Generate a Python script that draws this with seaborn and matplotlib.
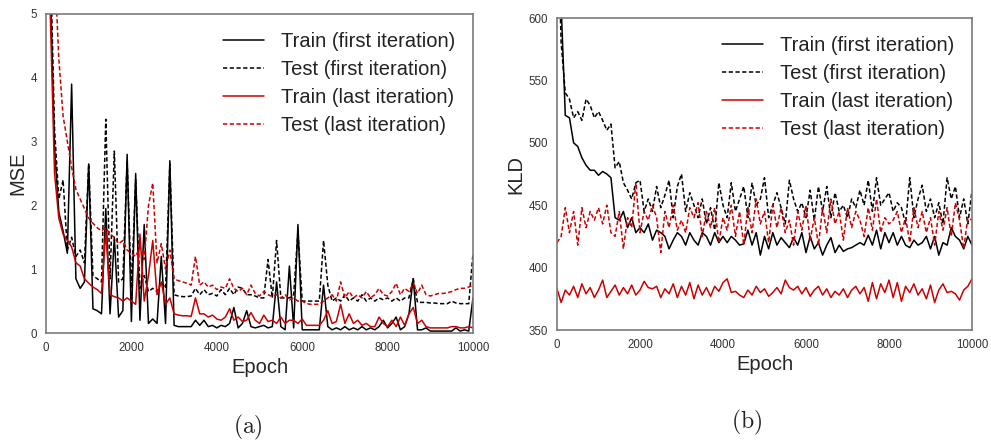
import numpy as np
import pandas as pd
import matplotlib
matplotlib.use("Agg")
import matplotlib.pyplot as plt
import seaborn as sns

# ---------------- data ----------------
epochs = list(range(0, 10001, 100))

mse_train_first = [
    9.0, 5.5, 2.9, 1.9, 1.6, 1.25, 3.9, 0.85, 0.7, 0.8,
    2.65, 0.38, 0.35, 0.3, 1.95, 0.3, 1.5, 0.25, 0.35, 2.8,
    0.18, 2.5, 0.2, 1.7, 0.15, 0.22, 0.15, 1.2, 0.15, 2.7,
    0.12, 0.1, 0.1, 0.1, 0.1, 0.2, 0.12, 0.2, 0.1, 0.12,
    0.08, 0.12, 0.1, 0.15, 0.4, 0.08, 0.15, 0.35, 0.1, 0.08,
    0.1, 0.12, 0.08, 0.1, 0.8, 0.1, 0.05, 1.05, 0.08, 1.7,
    0.05, 0.05, 0.05, 0.05, 0.05, 0.75, 0.1, 0.05, 0.08, 0.05,
    0.1, 0.05, 0.08, 0.05, 0.1, 0.05, 0.08, 0.05, 0.1, 0.2,
    0.08, 0.15, 0.25, 0.05, 0.1, 0.3, 0.85, 0.05, 0.05, 0.08,
    0.03, 0.03, 0.03, 0.03, 0.03, 0.03, 0.08, 0.03, 0.05, 0.03,
    0.55]

mse_test_first = [
    9.0, 6.0, 3.2, 2.1, 2.4, 1.3, 1.5, 1.2, 1.3, 1.1,
    2.65, 0.9, 0.85, 0.8, 3.35, 0.85, 2.85, 0.8, 0.85, 2.7,
    0.7, 2.4, 0.7, 0.9, 0.65, 0.7, 0.65, 0.8, 0.7, 2.65,
    0.6, 0.58, 0.57, 0.57, 0.58, 0.7, 0.6, 0.68, 0.6, 0.62,
    0.58, 0.68, 0.6, 0.7, 0.6, 0.72, 0.7, 0.6, 0.6, 0.58,
    0.55, 0.55, 1.15, 0.55, 1.45, 0.55, 0.55, 0.55, 0.6, 1.6,
    0.5, 0.5, 0.5, 0.5, 0.5, 1.45, 0.75, 0.5, 0.55, 0.5,
    0.6, 0.5, 0.55, 0.5, 0.6, 0.5, 0.55, 0.5, 0.55, 0.52,
    0.55, 0.5, 0.55, 0.5, 0.55, 0.55, 0.85, 0.48, 0.48, 0.48,
    0.47, 0.47, 0.46, 0.46, 0.46, 0.5, 0.47, 0.46, 0.46, 0.46,
    1.25]

mse_train_last = [
    9.0, 5.0, 2.5, 1.8, 1.55, 1.45, 1.35, 1.1, 1.05, 0.85,
    0.78, 0.72, 0.68, 0.62, 1.6, 0.6, 0.57, 0.55, 0.5, 0.55,
    0.5, 0.45, 1.55, 0.5, 0.9, 1.45, 0.6, 0.8, 0.45, 0.55,
    0.3, 0.28, 0.27, 0.27, 0.26, 0.55, 0.3, 0.3, 0.25, 0.28,
    0.22, 0.2, 0.25, 0.38, 0.2, 0.25, 0.18, 0.2, 0.32, 0.2,
    0.15, 0.28, 0.18, 0.2, 0.15, 0.25, 0.15, 0.2, 0.2, 0.15,
    0.22, 0.12, 0.12, 0.12, 0.12, 0.2, 0.35, 0.15, 0.18, 0.45,
    0.15, 0.3, 0.15, 0.2, 0.12, 0.15, 0.1, 0.1, 0.25, 0.15,
    0.1, 0.2, 0.1, 0.25, 0.12, 0.3, 0.4, 0.15, 0.2, 0.1,
    0.08, 0.08, 0.08, 0.08, 0.08, 0.1, 0.1, 0.08, 0.08, 0.1,
    0.08]

mse_test_last = [
    12.0, 9.0, 5.8, 4.3, 3.4, 3.0, 2.6, 2.25, 2.1, 1.95,
    1.8, 1.72, 1.65, 1.6, 1.65, 1.55, 1.5, 1.4, 1.45, 1.3,
    1.25, 1.2, 1.35, 1.15, 2.0, 2.35, 1.1, 1.4, 1.0, 1.3,
    0.85, 0.82, 0.8, 0.78, 0.75, 1.2, 0.75, 0.8, 0.72, 0.75,
    0.68, 0.72, 0.7, 0.85, 0.7, 0.65, 0.7, 0.6, 0.75, 0.62,
    0.58, 0.65, 0.6, 0.57, 0.6, 0.55, 0.6, 0.52, 0.55, 0.5,
    0.5, 0.46, 0.45, 0.45, 0.45, 0.5, 0.55, 0.6, 0.5, 0.8,
    0.55, 0.65, 0.55, 0.6, 0.55, 0.65, 0.55, 0.6, 0.7, 0.6,
    0.58, 0.65, 0.78, 0.6, 0.7, 0.65, 0.78, 0.62, 0.75, 0.6,
    0.58, 0.6, 0.62, 0.62, 0.63, 0.65, 0.68, 0.7, 0.7, 0.72,
    0.75]

kld_train_first = [
    700, 610, 522, 520, 500, 497, 488, 482, 478, 478,
    474, 477, 475, 472, 440, 438, 445, 432, 440, 428,
    432, 428, 435, 422, 430, 428, 425, 415, 422, 428,
    425, 418, 428, 422, 418, 428, 425, 418, 428, 420,
    425, 420, 425, 422, 418, 419, 430, 418, 428, 410,
    425, 415, 428, 418, 424, 420, 416, 424, 418, 428,
    412, 425, 415, 420, 410, 418, 424, 412, 418, 413,
    415, 416, 418, 420, 418, 426, 418, 430, 415, 428,
    420, 428, 418, 425, 418, 416, 422, 418, 420, 425,
    415, 425, 410, 420, 418, 432, 425, 422, 415, 425,
    418]

kld_test_first = [
    700, 580, 540, 535, 520, 525, 518, 535, 530, 520,
    525, 518, 510, 515, 480, 485, 468, 462, 455, 468,
    470, 445, 455, 445, 465, 448, 458, 470, 440, 465,
    475, 445, 460, 450, 440, 455, 435, 448, 430, 468,
    450, 440, 468, 445, 455, 465, 440, 468, 450, 455,
    472, 440, 450, 460, 448, 435, 470, 455, 445, 452,
    440, 462, 438, 465, 445, 465, 440, 460, 445, 450,
    440, 455, 448, 462, 450, 470, 445, 472, 450, 455,
    460, 445, 452, 448, 435, 472, 440, 455, 466, 445,
    455, 440, 452, 435, 472, 455, 465, 440, 455, 435,
    462]

kld_train_last = [
    383, 372, 382, 378, 385, 376, 387, 379, 384, 376,
    382, 390, 376, 381, 386, 378, 384, 379, 386, 378,
    382, 389, 384, 383, 385, 376, 383, 379, 387, 376,
    385, 378, 388, 375, 386, 378, 384, 377, 385, 381,
    388, 391, 380, 381, 378, 376, 382, 378, 385, 380,
    383, 377, 380, 384, 379, 390, 384, 382, 385, 379,
    384, 377, 382, 385, 378, 383, 376, 381, 378, 383,
    376, 382, 385, 379, 384, 373, 388, 375, 387, 380,
    390, 376, 388, 373, 385, 380, 387, 378, 383, 375,
    386, 372, 382, 387, 380, 381, 379, 374, 382, 385,
    391]

kld_test_last = [
    420, 425, 448, 428, 445, 418, 448, 432, 445, 438,
    448, 435, 450, 428, 425, 445, 415, 440, 432, 468,
    428, 445, 438, 450, 440, 412, 445, 432, 450, 430,
    438, 428, 448, 440, 452, 425, 445, 432, 448, 420,
    440, 430, 450, 425, 445, 418, 448, 428, 455, 435,
    445, 420, 450, 432, 448, 428, 438, 418, 445, 430,
    450, 422, 440, 418, 448, 428, 455, 435, 445, 422,
    448, 432, 445, 438, 425, 448, 430, 455, 428, 440,
    435, 438, 445, 428, 440, 420, 448, 432, 445, 428,
    440, 418, 445, 430, 448, 425, 452, 438, 415, 440,
    438]

series_labels = ["Train (first iteration)", "Test (first iteration)",
                 "Train (last iteration)", "Test (last iteration)"]
xticks = [0, 2000, 4000, 6000, 8000, 10000]
mse_yticks = [0, 1, 2, 3, 4, 5]
kld_yticks = [350, 400, 450, 500, 550, 600]
captions = ["(a)", "(b)"]

# ---------------- style ----------------
sns.set_theme(style="white")
plt.rcParams["font.family"] = ["Liberation Sans", "DejaVu Sans"]
plt.rcParams["mathtext.fontset"] = "cm"

BLACK = "#000000"
RED = "#cc0000"
SPINE = "#7a7a7a"
DASH = (0, (2.8, 1.6))
styles = [(BLACK, "-"), (BLACK, DASH), (RED, "-"), (RED, DASH)]

fig = plt.figure(figsize=(9.91, 4.41), dpi=100)
ax1 = fig.add_axes([46 / 991, 1 - 333 / 441, 427 / 991, 319 / 441])
ax2 = fig.add_axes([557 / 991, 1 - 330 / 441, 415 / 991, 312 / 441])


def draw(ax, data_list, ylabel, yticks):
    for vals, (c, ls), lab in zip(data_list, styles, series_labels):
        df = pd.DataFrame({"Epoch": epochs, "v": vals})
        sns.lineplot(data=df, x="Epoch", y="v", ax=ax, color=c,
                     linestyle=ls, linewidth=1.1, label=lab)
    ax.set_xlim(xticks[0], xticks[-1])
    ax.set_ylim(yticks[0], yticks[-1])
    ax.set_xticks(xticks)
    ax.set_yticks(yticks)
    ax.tick_params(axis="both", labelsize=8.3, colors="#333333", length=0, pad=6.5)
    ax.set_xlabel("Epoch", fontsize=14.5, labelpad=3)
    ax.set_ylabel(ylabel, fontsize=14.5, labelpad=2)
    for s in ax.spines.values():
        s.set_color(SPINE)
        s.set_linewidth(1.2)
    leg = ax.legend(loc="upper right", frameon=False, fontsize=14.5,
                    handlelength=2.0, handletextpad=0.85, labelspacing=0.45)
    for t in leg.get_texts():
        t.set_color("#222222")


draw(ax1, [mse_train_first, mse_test_first, mse_train_last, mse_test_last],
     "MSE", mse_yticks)
draw(ax2, [kld_train_first, kld_test_first, kld_train_last, kld_test_last],
     "KLD", kld_yticks)

fig.text(248 / 991, 1 - 427 / 441, r"$\mathrm{" + captions[0] + "}$",
         ha="center", va="center", fontsize=17, color="#222222")
fig.text(747 / 991, 1 - 422 / 441, r"$\mathrm{" + captions[1] + "}$",
         ha="center", va="center", fontsize=17, color="#222222")

fig.savefig("out.png", dpi=100)
